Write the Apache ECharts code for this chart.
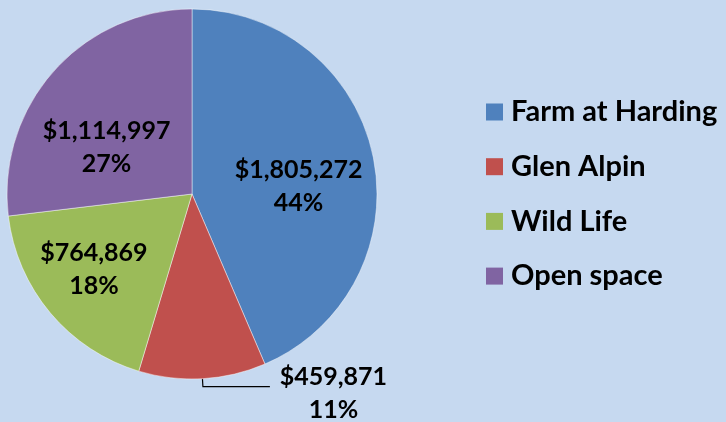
<!DOCTYPE html>
<html>
<head>
<meta charset="utf-8">
<script src="https://cdn.jsdelivr.net/npm/echarts@6/dist/echarts.min.js"></script>
<style>
  html, body { margin: 0; padding: 0; background: #C6D9F0; }
  #chart { width: 726px; height: 422px; }
</style>
</head>
<body>
<div id="chart"></div>
<script>
// Funding by project
const projects = ['Farm at Harding', 'Glen Alpin', 'Wild Life', 'Open space'];
const amounts = [1805272, 459871, 764869, 1114997];
const sliceColors = ['#4F81BD', '#C0504D', '#9BBB59', '#8064A2'];

// Nudges for the labels drawn inside the slices
const labelShift = [[13, 12], [0, 0], [-25, 14], [-14, 17]];

const FONT = 'Lato';

function money(v) {
  return '$' + v.toLocaleString('en-US');
}

const data = projects.map((name, i) => {
  const item = { name: name, value: amounts[i], itemStyle: { color: sliceColors[i] } };
  if (name === 'Glen Alpin') {
    item.label = {
      position: 'outside',
      padding: [14, 0, 0, 0],
      formatter: p => '{c|' + money(p.value) + '}\n{c|' + Math.round(p.percent) + '%}',
      rich: {
        c: { width: 117, align: 'center', fontFamily: FONT, fontWeight: 'bold', fontSize: 25, lineHeight: 33, color: '#000' }
      }
    };
    item.labelLine = { show: true, length: 8, length2: 67, smooth: false, lineStyle: { color: '#000', width: 1.2 } };
  }
  return item;
});

const chart = echarts.init(document.getElementById('chart'), null, { renderer: 'canvas' });
chart.setOption({
  backgroundColor: '#C6D9F0',
  animation: false,
  legend: {
    orient: 'vertical',
    left: 486,
    top: 96,
    padding: 0,
    itemWidth: 17,
    itemHeight: 17,
    itemGap: 22.7,
    icon: 'rect',
    itemStyle: { borderWidth: 0 },
    data: projects,
    textStyle: {
      fontFamily: FONT,
      fontWeight: 'bold',
      fontSize: 29,
      lineHeight: 32,
      color: '#000',
      padding: [0, 0, 0, 3]
    }
  },
  series: [{
    type: 'pie',
    center: [192, 194],
    radius: 185,
    startAngle: 90,
    clockwise: true,
    avoidLabelOverlap: false,
    itemStyle: { borderColor: 'rgba(255,255,255,0.45)', borderWidth: 1 },
    label: {
      position: 'inside',
      fontFamily: FONT,
      fontWeight: 'bold',
      fontSize: 25,
      lineHeight: 33,
      color: '#000',
      formatter: p => money(p.value) + '\n' + Math.round(p.percent) + '%'
    },
    labelLine: { show: false },
    labelLayout: p => {
      const s = labelShift[p.dataIndex];
      if (!s || (s[0] === 0 && s[1] === 0)) return {};
      return { dx: s[0], dy: s[1] };
    },
    emphasis: { disabled: true },
    data: data
  }]
});
</script>
</body>
</html>
